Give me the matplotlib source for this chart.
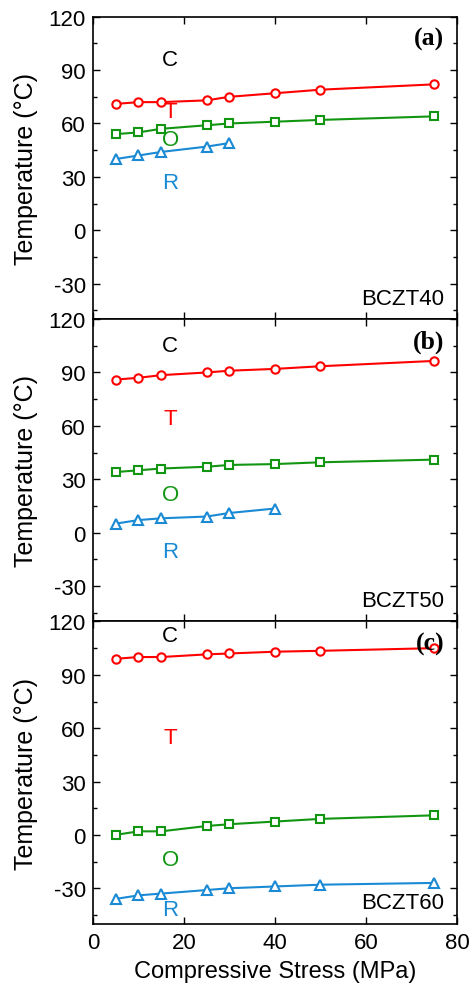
import matplotlib.pyplot as plt
from matplotlib.ticker import MultipleLocator

plt.rcParams['font.family'] = ['Liberation Sans', 'DejaVu Sans']
plt.rcParams['axes.unicode_minus'] = False

stress = [5, 10, 15, 25, 30, 40, 50, 75]

# BCZT40
a_ct = [71, 72, 72, 73, 75, 77, 79, 82]
a_to = [54, 55, 57, 59, 60, 61, 62, 64]
a_or = [40, 42, 44, 47, 49]

# BCZT50
b_ct = [86, 87, 88.5, 90, 91, 92, 93.5, 96.5]
b_to = [34, 35, 36, 37, 38, 38.5, 39.5, 41]
b_or = [5, 7, 8, 9, 11, 13.5]

# BCZT60
c_ct = [99, 100, 100, 101.5, 102, 103, 103.5, 105]
c_to = [0, 2, 2, 5, 6, 7.5, 9, 11]
c_or = [-36, -34, -33, -31, -30, -29, -28, -27]

names = ['BCZT40', 'BCZT50', 'BCZT60']
tags = ['(a)', '(b)', '(c)']
phase_y = [[96, 67, 51, 27], [105, 64, 21.5, -10.5], [112, 54.5, -14, -42]]
phases = ['C', 'T', 'O', 'R']

red = '#ff0000'
green = '#129612'
blue = '#1a8ad4'
phase_colors = ['black', red, green, blue]

panels = [(a_ct, a_to, a_or), (b_ct, b_to, b_or), (c_ct, c_to, c_or)]

fig, axes = plt.subplots(3, 1, figsize=(4.74, 9.87), dpi=100, sharex=True)
fig.subplots_adjust(left=0.196, right=0.964, top=0.982, bottom=0.063, hspace=0)

for i, ax in enumerate(axes):
    ct, to, orr = panels[i]
    ax.plot(stress[:len(ct)], ct, '-o', color=red, mfc='white', mec=red,
            ms=6, mew=1.5, lw=1.5)
    ax.plot(stress[:len(to)], to, '-s', color=green, mfc='white', mec=green,
            ms=6, mew=1.5, lw=1.5)
    ax.plot(stress[:len(orr)], orr, '-^', color=blue, mfc='white', mec=blue,
            ms=7, mew=1.5, lw=1.5)
    for p, yv, col in zip(phases, phase_y[i], phase_colors):
        ax.text(17, yv, p, color=col, fontsize=16, ha='center', va='center')
    ax.text(0.965, 0.035, names[i], transform=ax.transAxes, fontsize=16,
            ha='right', va='bottom')
    ax.text(0.965, 0.965, tags[i], transform=ax.transAxes, fontsize=18.5,
            ha='right', va='top', fontweight='bold',
            family=['Liberation Serif', 'DejaVu Serif'])
    ax.set_xlim(0, 80)
    ax.set_ylim(-50, 120)
    ax.yaxis.set_minor_locator(MultipleLocator(15))
    ax.xaxis.set_major_locator(MultipleLocator(20))
    ax.set_yticks([-30, 0, 30, 60, 90, 120])
    ax.tick_params(which='both', direction='in', top=True, right=True,
                   labelsize=16, width=1)
    ax.tick_params(which='major', length=5, pad=5)
    ax.tick_params(which='minor', length=3)
    ax.tick_params(axis='x', pad=6)
    for s in ax.spines.values():
        s.set_linewidth(1.2)
    ax.set_ylabel('Temperature (°C)', fontsize=18, labelpad=8)

axes[-1].set_xlabel('Compressive Stress (MPa)', fontsize=17, labelpad=5)

fig.savefig('out.png', dpi=100)
